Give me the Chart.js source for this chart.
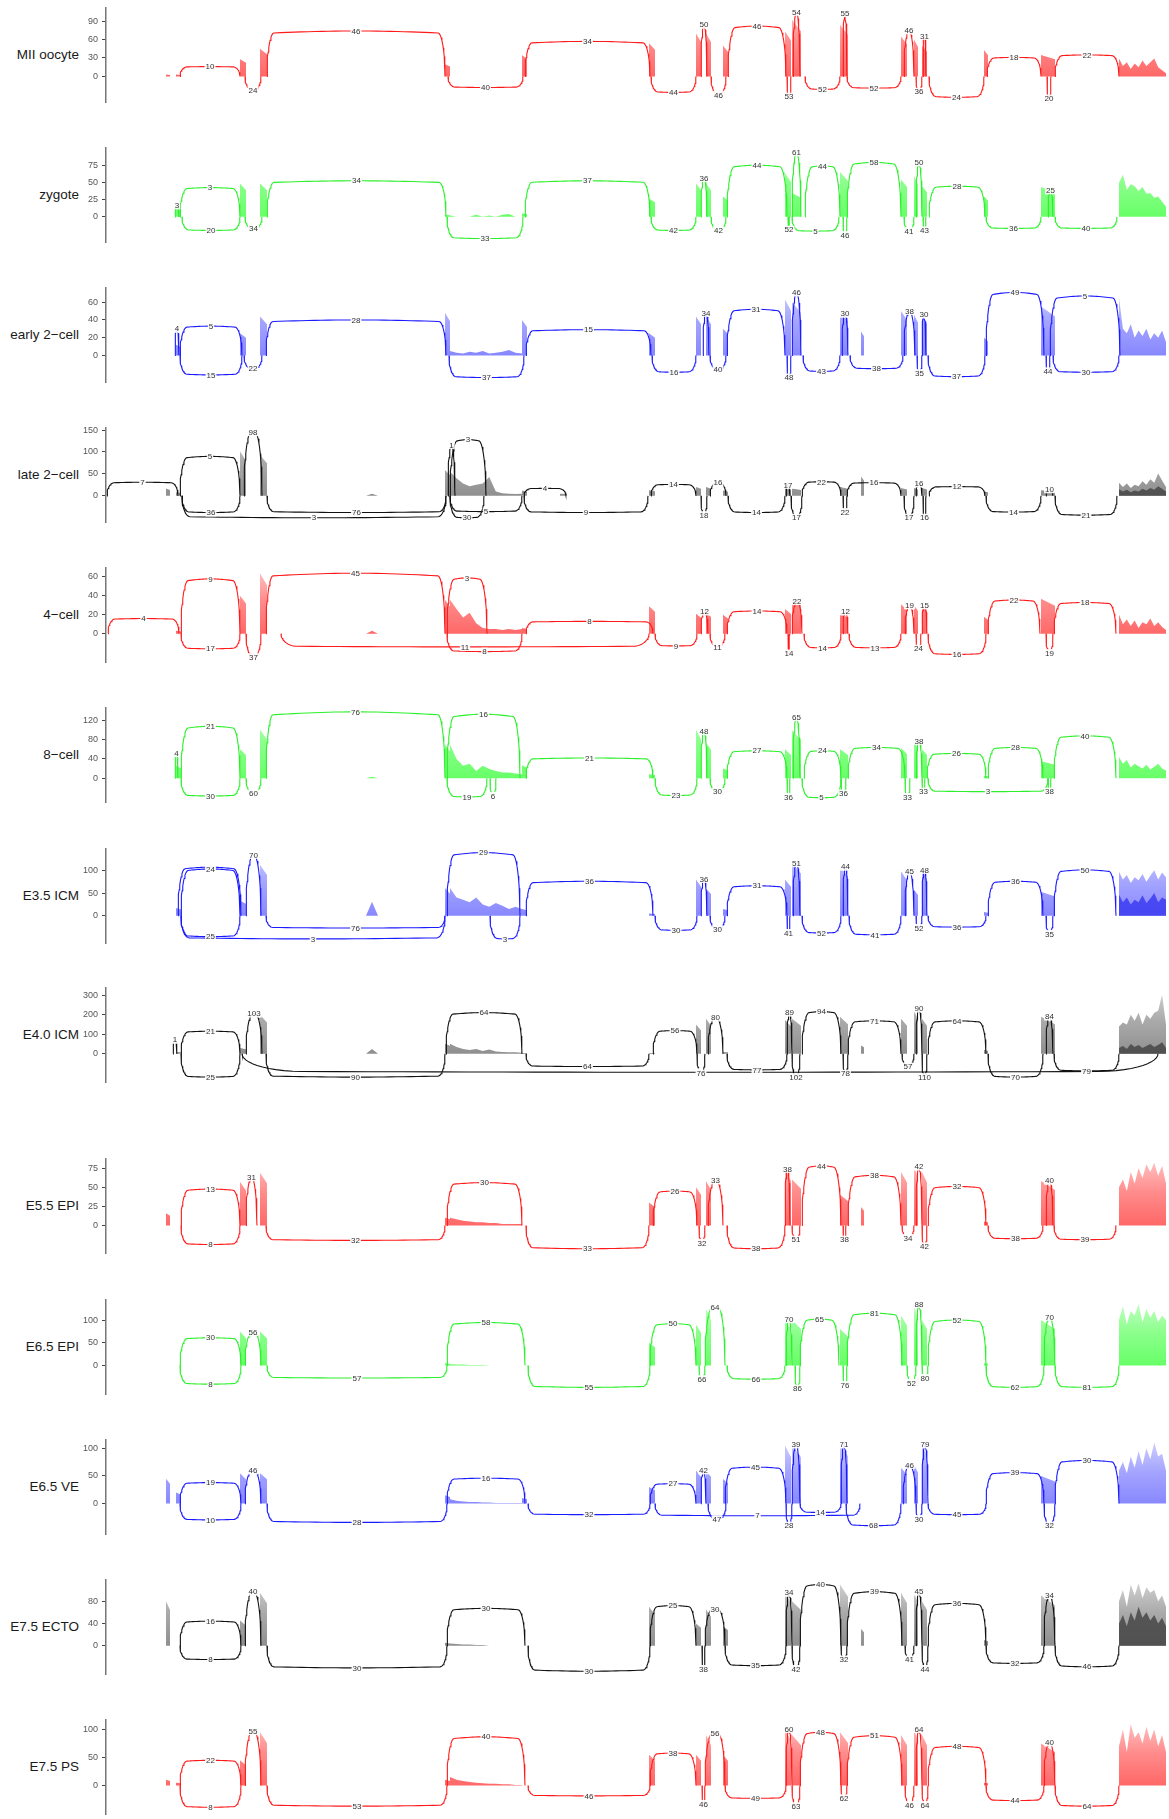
<!DOCTYPE html>
<html>
<head>
<meta charset="utf-8">
<script src="https://cdn.jsdelivr.net/npm/chart.js@4.4.1/dist/chart.umd.min.js"></script>
<style>
html, body { margin: 0; padding: 0; background: #fff; }
#page { position: relative; width: 1169px; height: 1819px; overflow: hidden; }
#page canvas { position: absolute; left: 0; }
.name { position: absolute; left: 0; width: 79px; text-align: right; font: 13.5px "Liberation Sans", Arial, sans-serif; color: #1a1a1a; line-height: 16px; white-space: nowrap; }
</style>
</head>
<body>
<div id="page"></div>
<script>
// sample names, top to bottom
const samples = ["MII oocyte", "zygote", "early 2\u2212cell", "late 2\u2212cell", "4\u2212cell", "8\u2212cell",
  "E3.5 ICM", "E4.0 ICM", "E5.5 EPI", "E6.5 EPI", "E6.5 VE", "E7.5 ECTO", "E7.5 PS"];

// y axis range and tick labels for each sample
const yMin = [-41.6, -37, -30, -59.6, -30, -49.5, -60, -144, -36.1, -62.6, -55, -51, -51];
const yMax = [111.3, 101.2, 76, 154.6, 69.5, 146, 147, 337, 86.9, 144, 115, 118, 117];
const yTicks = [[0, 30, 60, 90], [0, 25, 50, 75], [0, 20, 40, 60], [0, 50, 100, 150], [0, 20, 40, 60],
  [0, 40, 80, 120], [0, 50, 100], [0, 100, 200, 300], [0, 25, 50, 75], [0, 50, 100], [0, 50, 100], [0, 40, 80], [0, 50, 100]];

// exons (relative genomic position); exon 5 is a broad low hill
const exonStart = [0, 60, 70, 134, 154, 260, 339, 416, 454, 543, 590, 600, 617, 679, 686, 734, 755, 795, 808, 816, 878, 935];
const exonEnd   = [2, 64, 75, 140, 161, 272, 344, 421, 461, 549, 595, 605, 622, 685, 695, 742, 758, 801, 812, 821, 882, 949];
const hillExon = 5;
const retainFrom = 344, retainTo = 416;   // retained intron region
const lastFrom = 1013, lastTo = 1060;     // last exon

// exon coverage per sample
const miiCov   = [0, 3, 3, 28, 45, 0, 20, 35, 0, 54, 70, 70, 50, 73, 92, 84, 0, 65, 60, 50, 43, 35];
const zygCov   = [0, 0, 12, 49, 49, 0, 3, 5, 0, 27, 49, 49, 30, 64, 35, 66, 0, 55, 60, 45, 30, 44];
const e2cCov   = [0, 0, 12, 25, 44, 0, 48, 40, 0, 25, 44, 44, 30, 63, 60, 48, 27, 50, 46, 44, 20, 55];
const l2cCov   = [0, 17, 8, 101, 93, 5, 59, 12, 5, 13, 20, 20, 12, 17, 17, 20, 44, 18, 18, 18, 10, 13];
const c4Cov    = [0, 0, 3, 40, 64, 3, 36, 6, 0, 29, 21, 22, 20, 26, 37, 21, 0, 31, 30, 30, 18, 37];
const c8Cov    = [0, 0, 26, 60, 101, 3, 70, 27, 0, 8, 101, 74, 20, 60, 100, 60, 0, 63, 77, 60, 5, 35];
const icm35Cov = [0, 0, 17, 33, 112, 31, 61, 15, 0, 5, 80, 60, 15, 80, 116, 108, 0, 98, 57, 101, 8, 53];
const icm40Cov = [0, 0, 10, 30, 200, 25, 52, 5, 0, 5, 150, 180, 10, 175, 180, 190, 43, 180, 220, 180, 20, 190];
const epi55Cov = [0, 16, 0, 57, 69, 0, 10, 0, 0, 30, 50, 58, 0, 73, 60, 40, 24, 70, 77, 70, 5, 58];
const epi65Cov = [0, 0, 0, 75, 75, 0, 5, 0, 0, 50, 90, 125, 0, 100, 100, 80, 0, 110, 130, 100, 5, 100];
const ve65Cov  = [0, 45, 20, 55, 55, 0, 15, 10, 0, 30, 60, 60, 45, 105, 105, 107, 0, 65, 70, 107, 0, 50];
const ectoCov  = [0, 80, 0, 45, 95, 0, 5, 0, 0, 70, 40, 65, 35, 95, 80, 110, 30, 95, 95, 80, 10, 90];
const psCov    = [0, 10, 5, 45, 95, 0, 10, 0, 0, 55, 55, 90, 55, 100, 90, 95, 0, 90, 100, 90, 5, 75];

// retained intron coverage
const miiRetain   = [0, 0, 0, 0, 0, 0, 0, 0, 0, 0, 0, 0];
const zygRetain   = [2, 0, 0, 0, 3, 0, 2, 0, 3, 4, 0, 0];
const e2cRetain   = [5, 3, 2, 4, 3, 5, 2, 3, 4, 6, 3, 2];
const l2cRetain   = [55, 40, 28, 22, 25, 28, 43, 10, 6, 5, 4, 5];
const c4Retain    = [36, 26, 17, 22, 11, 6, 5, 5, 4, 5, 4, 5];
const c8Retain    = [70, 40, 26, 30, 15, 26, 19, 15, 12, 12, 10, 8];
const icm35Retain = [61, 40, 35, 30, 40, 25, 20, 28, 22, 15, 20, 15];
const icm40Retain = [52, 35, 25, 20, 25, 15, 22, 12, 10, 8, 8, 6];
const epi55Retain = [10, 8, 6, 5, 4, 4, 3, 3, 2, 2, 2, 2];
const epi65Retain = [3, 2, 2, 1, 1, 1, 0, 0, 0, 0, 0, 0];
const ve65Retain  = [8, 5, 4, 3, 3, 2, 2, 1, 1, 1, 1, 1];
const ectoRetain  = [4, 3, 2, 2, 1, 1, 0, 0, 0, 0, 0, 0];
const psRetain    = [15, 10, 8, 6, 5, 4, 3, 3, 2, 2, 1, 1];

// last exon coverage profile
const miiLast   = [29, 17, 23, 12, 21, 15, 26, 17, 23, 29, 15, 10, 5];
const zygLast   = [50, 62, 40, 48, 45, 38, 44, 34, 35, 28, 30, 22, 15];
const e2cLast   = [65, 30, 25, 35, 20, 28, 22, 30, 18, 25, 20, 28, 15];
const l2cLast   = [30, 20, 28, 18, 25, 22, 33, 25, 38, 30, 51, 35, 20];
const c4Last    = [20, 10, 15, 8, 14, 6, 12, 10, 16, 8, 12, 7, 4];
const c8Last    = [44, 30, 38, 22, 30, 25, 20, 28, 18, 24, 30, 20, 16];
const icm35Last = [97, 80, 90, 72, 85, 78, 92, 75, 88, 100, 80, 95, 85];
const icm40Last = [140, 160, 150, 200, 170, 210, 150, 200, 180, 210, 220, 303, 150];
const epi55Last = [50, 60, 45, 70, 55, 75, 62, 80, 70, 82, 65, 78, 55];
const epi65Last = [100, 130, 90, 120, 110, 135, 95, 125, 105, 120, 95, 110, 100];
const ve65Last  = [60, 75, 55, 85, 65, 95, 70, 100, 80, 110, 85, 90, 60];
const ectoLast  = [80, 100, 70, 110, 90, 112, 85, 105, 95, 100, 80, 90, 70];
const psLast    = [70, 100, 60, 110, 85, 95, 75, 105, 80, 100, 70, 90, 60];

// darker (mean) layer on the last exon
const l2cLastDark   = [15, 10, 14, 8, 12, 10, 16, 12, 18, 14, 22, 16, 10];
const icm35LastDark = [46, 30, 40, 25, 35, 30, 45, 28, 38, 50, 30, 40, 35];
const icm40LastDark = [30, 40, 25, 50, 35, 45, 30, 40, 50, 35, 45, 60, 30];
const ectoLastDark  = [40, 55, 35, 60, 45, 70, 50, 60, 45, 55, 40, 50, 35];

// junctions: [start, end, reads, arc height]
const miiJunctions = [[74,134,10,16],[139,155,24,-22],[161,339,46,74],[342,417,40,-18],[419,544,34,57],[545,590,44,-26],
  [595,601,50,84],[605,620,46,-30],[622,680,46,82],[681,685,53,-33],[687,694,54,105],[699,734,52,-21],[737,741,55,103],
  [741,795,52,-19],[798,808,46,75],[810,816,36,-25],[817,820,31,66],[823,878,24,-34],[881,935,18,31],[941,945,20,-36],[949,1013,22,35]];
const zygJunctions = [[69,73,3,17],[74,134,3,43],[76,134,20,-20],[139,156,34,-17],[161,340,34,53],[341,417,33,-32],[419,544,37,53],
  [545,590,42,-20],[595,601,36,57],[605,620,42,-20],[621,681,44,76],[682,684,52,-19],[686,695,61,95],[686,733,5,-21],[699,734,44,75],
  [737,741,46,-27],[741,795,58,80],[798,808,41,-21],[810,816,50,80],[817,820,43,-20],[823,879,28,45],[880,935,36,-17],[942,947,25,39],[949,1011,40,-17]];
const e2cJunctions = [[69,73,4,30],[74,136,5,33],[74,136,15,-22],[138,156,22,-15],[160,340,28,40],[343,418,37,-25],[420,545,15,29],
  [546,590,16,-19],[597,603,34,48],[604,620,40,-16],[621,679,31,52],[681,685,48,-25],[686,695,46,71],[697,734,43,-18],[736,742,30,47],
  [744,797,38,-15],[798,809,38,50],[811,816,35,-20],[816,820,30,46],[822,879,37,-24],[880,938,49,71],[940,944,44,-18],[944,1014,5,67],[947,1013,30,-19]];
const l2cJunctions = [[1,72,7,31],[74,134,5,90],[76,134,36,-38],[138,156,98,145],[161,340,76,-38],[76,340,3,-50],[342,349,1,116],
  [344,380,3,128],[344,378,30,-50],[344,416,5,-36],[418,460,4,17],[418,542,9,-38],[545,590,14,26],[595,601,18,-44],[604,620,16,30],
  [622,679,14,-38],[680,684,17,25],[685,696,17,-50],[696,735,22,32],[737,741,22,-37],[741,795,16,30],[798,808,17,-50],[810,816,16,28],
  [817,820,16,-50],[823,879,12,21],[880,935,14,-37],[940,947,10,15],[949,1011,21,-44]];
const c4Junctions = [[2,73,4,16],[75,134,9,58],[75,134,17,-16],[140,155,37,-25],[160,339,45,64],[341,381,3,59],[175,543,11,-14],
  [341,416,8,-19],[420,547,8,13],[549,591,9,-13],[595,602,12,23.5],[604,619,11,-14],[621,681,14,24],[682,684,14,-21],[686,696,22,34.5],
  [698,735,14,-15],[737,742,12,23.5],[743,795,13,-15],[799,808,19,30],[810,815,24,-16],[816,821,15,30],[822,880,16,-22],[882,934,22,35.6],
  [940,947,19,-20.5],[948,1010,18,33]];
const c8Junctions = [[69,72,4,52],[75,134,21,108],[75,134,30,-37],[140,155,60,-32],[160,339,76,138],[341,414,16,133],[341,381,19,-39],
  [384,390,6,-37],[420,547,21,42],[549,591,23,-36],[595,601,48,98],[604,619,30,-28],[621,681,27,57],[681,684,36,-39],[687,694,65,127],
  [696,735,5,-40.6],[698,735,24,57],[735,740,36,-32],[742,799,34,64],[799,804,33,-39],[810,816,38,77.5],[816,819,33,-28],[821,880,26,51.5],
  [822,942,3,-28],[882,937,28,64],[942,945,38,-28],[948,1010,40,88]];
const icm35Junctions = [[72,135,4,107],[75,134,24,103],[75,134,25,-46],[140,155,70,134],[160,339,76,-27],[75,339,3,-51],[341,414,29,139],
  [384,414,3,-51],[420,547,36,76],[549,591,30,-32],[595,601,36,81],[604,619,30,-29.5],[621,681,31,66],[681,684,41,-38],[687,694,51,116],
  [696,735,52,-38],[737,742,44,108],[743,795,41,-42],[799,808,45,97.6],[810,816,52,-27],[816,821,48,101],[822,880,36,-25],[882,937,36,76],
  [940,947,35,-40],[948,1010,50,101]];
const icm40Junctions = [[67,71,1,72],[75,134,21,116],[75,134,25,-119],[140,156,103,206],[136,1052,6,-94],[160,339,90,-119],[340,416,64,211],
  [420,543,64,-65],[547,591,56,119],[591,599,76,-102],[602,617,80,186],[621,681,77,-82],[681,686,89,211],[686,694,102,-119],[696,735,94,216],
  [737,742,78,-102],[742,795,71,169],[796,808,57,-65],[810,816,90,232],[816,821,110,-119],[822,880,64,169],[882,937,70,-119],[940,947,84,191],
  [948,1013,79,-87]];
const epi55Junctions = [[75,134,13,47.6],[75,134,8,-25],[140,151,31,63],[160,339,32,-19.6],[341,416,30,56],[420,543,33,-30.5],[547,591,26,45],
  [593,599,32,-23],[602,617,33,59],[621,679,38,-30.5],[679,684,38,74],[686,694,51,-18.7],[696,735,44,78],[737,740,38,-18.7],[742,795,38,65.5],
  [796,808,34,-16.5],[810,816,42,77],[816,821,42,-27.5],[822,880,32,51],[882,937,38,-17.4],[940,947,40,58.5],[948,1010,39,-18.7]];
const epi65Junctions = [[74,135,30,61],[74,135,8,-41],[139,155,56,74],[161,341,57,-27.5],[341,419,58,94.5],[422,544,55,-48],[544,590,50,92],
  [593,599,66,-30],[599,619,64,128],[621,679,66,-30],[680,686,70,102],[689,694,86,-51],[694,733,65,102],[737,741,76,-43],[741,796,81,115],
  [801,810,52,-38],[810,816,88,135],[816,822,80,-27.5],[822,880,52,100],[880,938,62,-48],[938,949,70,107],[949,1013,81,-48]];
const ve65Junctions = [[74,135,19,38],[74,135,10,-29.5],[139,155,46,60],[161,341,28,-34],[341,419,16,46],[422,544,32,-20],[544,590,27,36],
  [595,600,42,60],[602,620,47,-28],[549,754,7,-22],[619,680,45,66],[680,686,28,-40],[686,694,39,107],[694,735,14,-16],[735,741,71,107],
  [740,795,68,-40],[797,810,46,70],[810,816,30,-28],[816,822,79,107],[822,880,45,-20],[880,938,39,56],[938,949,32,-40],[949,1013,30,78]];
const ectoJunctions = [[74,135,16,44],[74,135,8,-25],[139,155,40,97],[161,341,30,-40],[341,419,30,67],[422,544,30,-46],[544,590,25,72],
  [596,599,38,-42],[599,619,30,65],[619,680,35,-36],[680,686,34,95],[686,694,42,-42],[694,735,40,110],[735,741,32,-25],[741,796,39,97],
  [799,808,41,-25],[810,816,45,97],[816,822,44,-42],[822,880,36,76],[880,938,32,-32],[938,949,34,91],[949,1013,46,-38]];
const psJunctions = [[74,135,22,45],[74,135,8,-39],[139,155,55,97],[161,341,53,-37],[341,419,40,87],[422,544,46,-18.6],[544,590,38,58],
  [596,599,46,-33],[599,619,56,93],[619,680,49,-23],[680,686,60,101],[686,694,63,-37],[694,735,48,95],[735,741,62,-23],[741,796,51,89],
  [799,808,46,-35],[810,816,64,101],[816,822,64,-35],[822,880,48,70],[880,938,44,-27],[938,949,40,77],[949,1013,64,-37]];

const palette = {
  red:   { line: "#ff1a1a", rgb: "255,45,45",  dark: "rgba(230,20,20,0.8)" },
  green: { line: "#2bf02b", rgb: "45,255,45",  dark: "rgba(20,220,20,0.8)" },
  blue:  { line: "#1a1aff", rgb: "90,90,255",  dark: "rgba(55,55,240,0.8)" },
  black: { line: "#111111", rgb: "100,100,100", dark: "rgba(70,70,70,0.85)" }
};
const colorOf = ["red", "green", "blue", "black", "red", "green", "blue", "black", "red", "green", "blue", "black", "red"];

const panels = [
  [miiCov, miiRetain, miiLast, null, miiJunctions],
  [zygCov, zygRetain, zygLast, null, zygJunctions],
  [e2cCov, e2cRetain, e2cLast, null, e2cJunctions],
  [l2cCov, l2cRetain, l2cLast, l2cLastDark, l2cJunctions],
  [c4Cov, c4Retain, c4Last, null, c4Junctions],
  [c8Cov, c8Retain, c8Last, null, c8Junctions],
  [icm35Cov, icm35Retain, icm35Last, icm35LastDark, icm35Junctions],
  [icm40Cov, icm40Retain, icm40Last, icm40LastDark, icm40Junctions],
  [epi55Cov, epi55Retain, epi55Last, null, epi55Junctions],
  [epi65Cov, epi65Retain, epi65Last, null, epi65Junctions],
  [ve65Cov, ve65Retain, ve65Last, null, ve65Junctions],
  [ectoCov, ectoRetain, ectoLast, ectoLastDark, ectoJunctions],
  [psCov, psRetain, psLast, null, psJunctions]
];

// page layout
const axisTop = [8, 148, 288, 428, 568, 708, 849, 988, 1159, 1300, 1440, 1580, 1720];
const axisH = 94, pad = 10, axisLeft = 106;

function profile(from, to, vals) {
  const pts = [{ x: from, y: 0 }];
  vals.forEach((v, i) => pts.push({ x: from + i * (to - from) / (vals.length - 1), y: v }));
  pts.push({ x: to, y: 0 });
  return pts;
}

function coverage(cov, retain, last) {
  const segs = [];
  cov.forEach((h, i) => {
    if (h <= 0) return;
    const s = exonStart[i], e = exonEnd[i];
    if (i === hillExon) segs.push([{ x: s, y: 0 }, { x: (s + e) / 2, y: h }, { x: e, y: 0 }]);
    else segs.push([{ x: s, y: 0 }, { x: s, y: h }, { x: e, y: h * 0.8 }, { x: e, y: 0 }]);
  });
  segs.push(profile(retainFrom, retainTo, retain));
  segs.push(profile(lastFrom, lastTo, last));
  segs.sort((a, b) => a[0].x - b[0].x);
  return [{ x: 0, y: 0 }].concat(...segs);
}

// rounded junction arc from s to e with plateau h
function arcPath(s, e, h) {
  const w = e - s;
  const r = Math.min(w / 2, 7 + Math.max(0, w - 250) * 0.08);
  const xs = [];
  for (let k = 0; k <= 12; k++) {
    const d = r * (k / 12) * (k / 12);
    xs.push(s + d, e - d);
  }
  const m = 24;
  for (let k = 1; k < m; k++) xs.push(s + r + (w - 2 * r) * k / m);
  xs.sort((a, b) => a - b);
  return xs.map(x => {
    const d = Math.min(x - s, e - x);
    const f = d >= r ? 1 : Math.sqrt(Math.max(0, 1 - (1 - d / r) * (1 - d / r)));
    const bow = w > 20 ? 0.95 + 0.05 * Math.sin(Math.PI * (x - s) / w) : 1;
    return { x: x, y: h * f * bow };
  });
}

function labelPlugin(junctions) {
  return {
    id: "junctionLabels",
    afterDatasetsDraw(chart) {
      const { ctx } = chart;
      const xs = chart.scales.x, ys = chart.scales.y;
      ctx.save();
      ctx.font = '8px "Liberation Sans", Arial, sans-serif';
      ctx.textAlign = "center";
      ctx.textBaseline = "middle";
      junctions.forEach(([s, e, n, h]) => {
        const px = xs.getPixelForValue((s + e) / 2);
        const py = ys.getPixelForValue(h);
        const t = String(n);
        const tw = ctx.measureText(t).width + 2;
        ctx.fillStyle = "rgba(255,255,255,0.92)";
        ctx.fillRect(px - tw / 2, py - 4, tw, 8);
        ctx.fillStyle = "#333";
        ctx.fillText(t, px, py + 0.5);
      });
      ctx.restore();
    }
  };
}

function fadeFill(rgb) {
  return context => {
    const chart = context.chart;
    const area = chart.chartArea;
    if (!area) return "rgba(" + rgb + ",0.55)";
    const y0 = chart.scales.y.getPixelForValue(0);
    const g = chart.ctx.createLinearGradient(0, y0, 0, area.top);
    g.addColorStop(0, "rgba(" + rgb + ",0.72)");
    g.addColorStop(0.5, "rgba(" + rgb + ",0.55)");
    g.addColorStop(1, "rgba(" + rgb + ",0.28)");
    return g;
  };
}

const page = document.getElementById("page");
samples.forEach((name, i) => {
  const [cov, retain, last, lastDark, junctions] = panels[i];
  const col = palette[colorOf[i]];

  const lbl = document.createElement("div");
  lbl.className = "name";
  lbl.textContent = name;
  lbl.style.top = (axisTop[i] + axisH / 2 - 8) + "px";
  page.appendChild(lbl);

  const cv = document.createElement("canvas");
  cv.width = 1169;
  cv.height = axisH + 2 * pad;
  cv.style.top = (axisTop[i] - pad) + "px";
  page.appendChild(cv);

  const datasets = [{
    data: coverage(cov, retain, last),
    borderWidth: 0, backgroundColor: fadeFill(col.rgb), fill: "origin", pointRadius: 0, order: 3
  }];
  if (lastDark) {
    datasets.push({
      data: profile(lastFrom, lastTo, lastDark),
      borderWidth: 0, backgroundColor: col.dark, fill: "origin", pointRadius: 0, order: 2
    });
  }
  junctions.forEach(([s, e, n, h]) => {
    datasets.push({
      data: arcPath(s, e, h),
      borderColor: col.line, borderWidth: 1.1, fill: false, pointRadius: 0, tension: 0, clip: false, order: 1
    });
  });

  new Chart(cv, {
    type: "line",
    data: { datasets },
    options: {
      responsive: false,
      animation: false,
      devicePixelRatio: 1,
      layout: { padding: { left: 0, right: 3, top: pad, bottom: pad } },
      plugins: { legend: { display: false }, tooltip: { enabled: false } },
      scales: {
        x: { type: "linear", display: false, min: 0, max: 1060 },
        y: {
          min: yMin[i], max: yMax[i],
          afterBuildTicks: s => { s.ticks = yTicks[i].map(v => ({ value: v })); },
          afterFit: s => { s.width = axisLeft; },
          grid: { drawOnChartArea: false, drawTicks: true, tickLength: 4, color: "#444", lineWidth: 1 },
          border: { display: true, color: "#777", width: 1.5 },
          ticks: { color: "#555", padding: 4, font: { size: 9, family: '"Liberation Sans", Arial, sans-serif' } }
        }
      }
    },
    plugins: [labelPlugin(junctions)]
  });
});
</script>
</body>
</html>
